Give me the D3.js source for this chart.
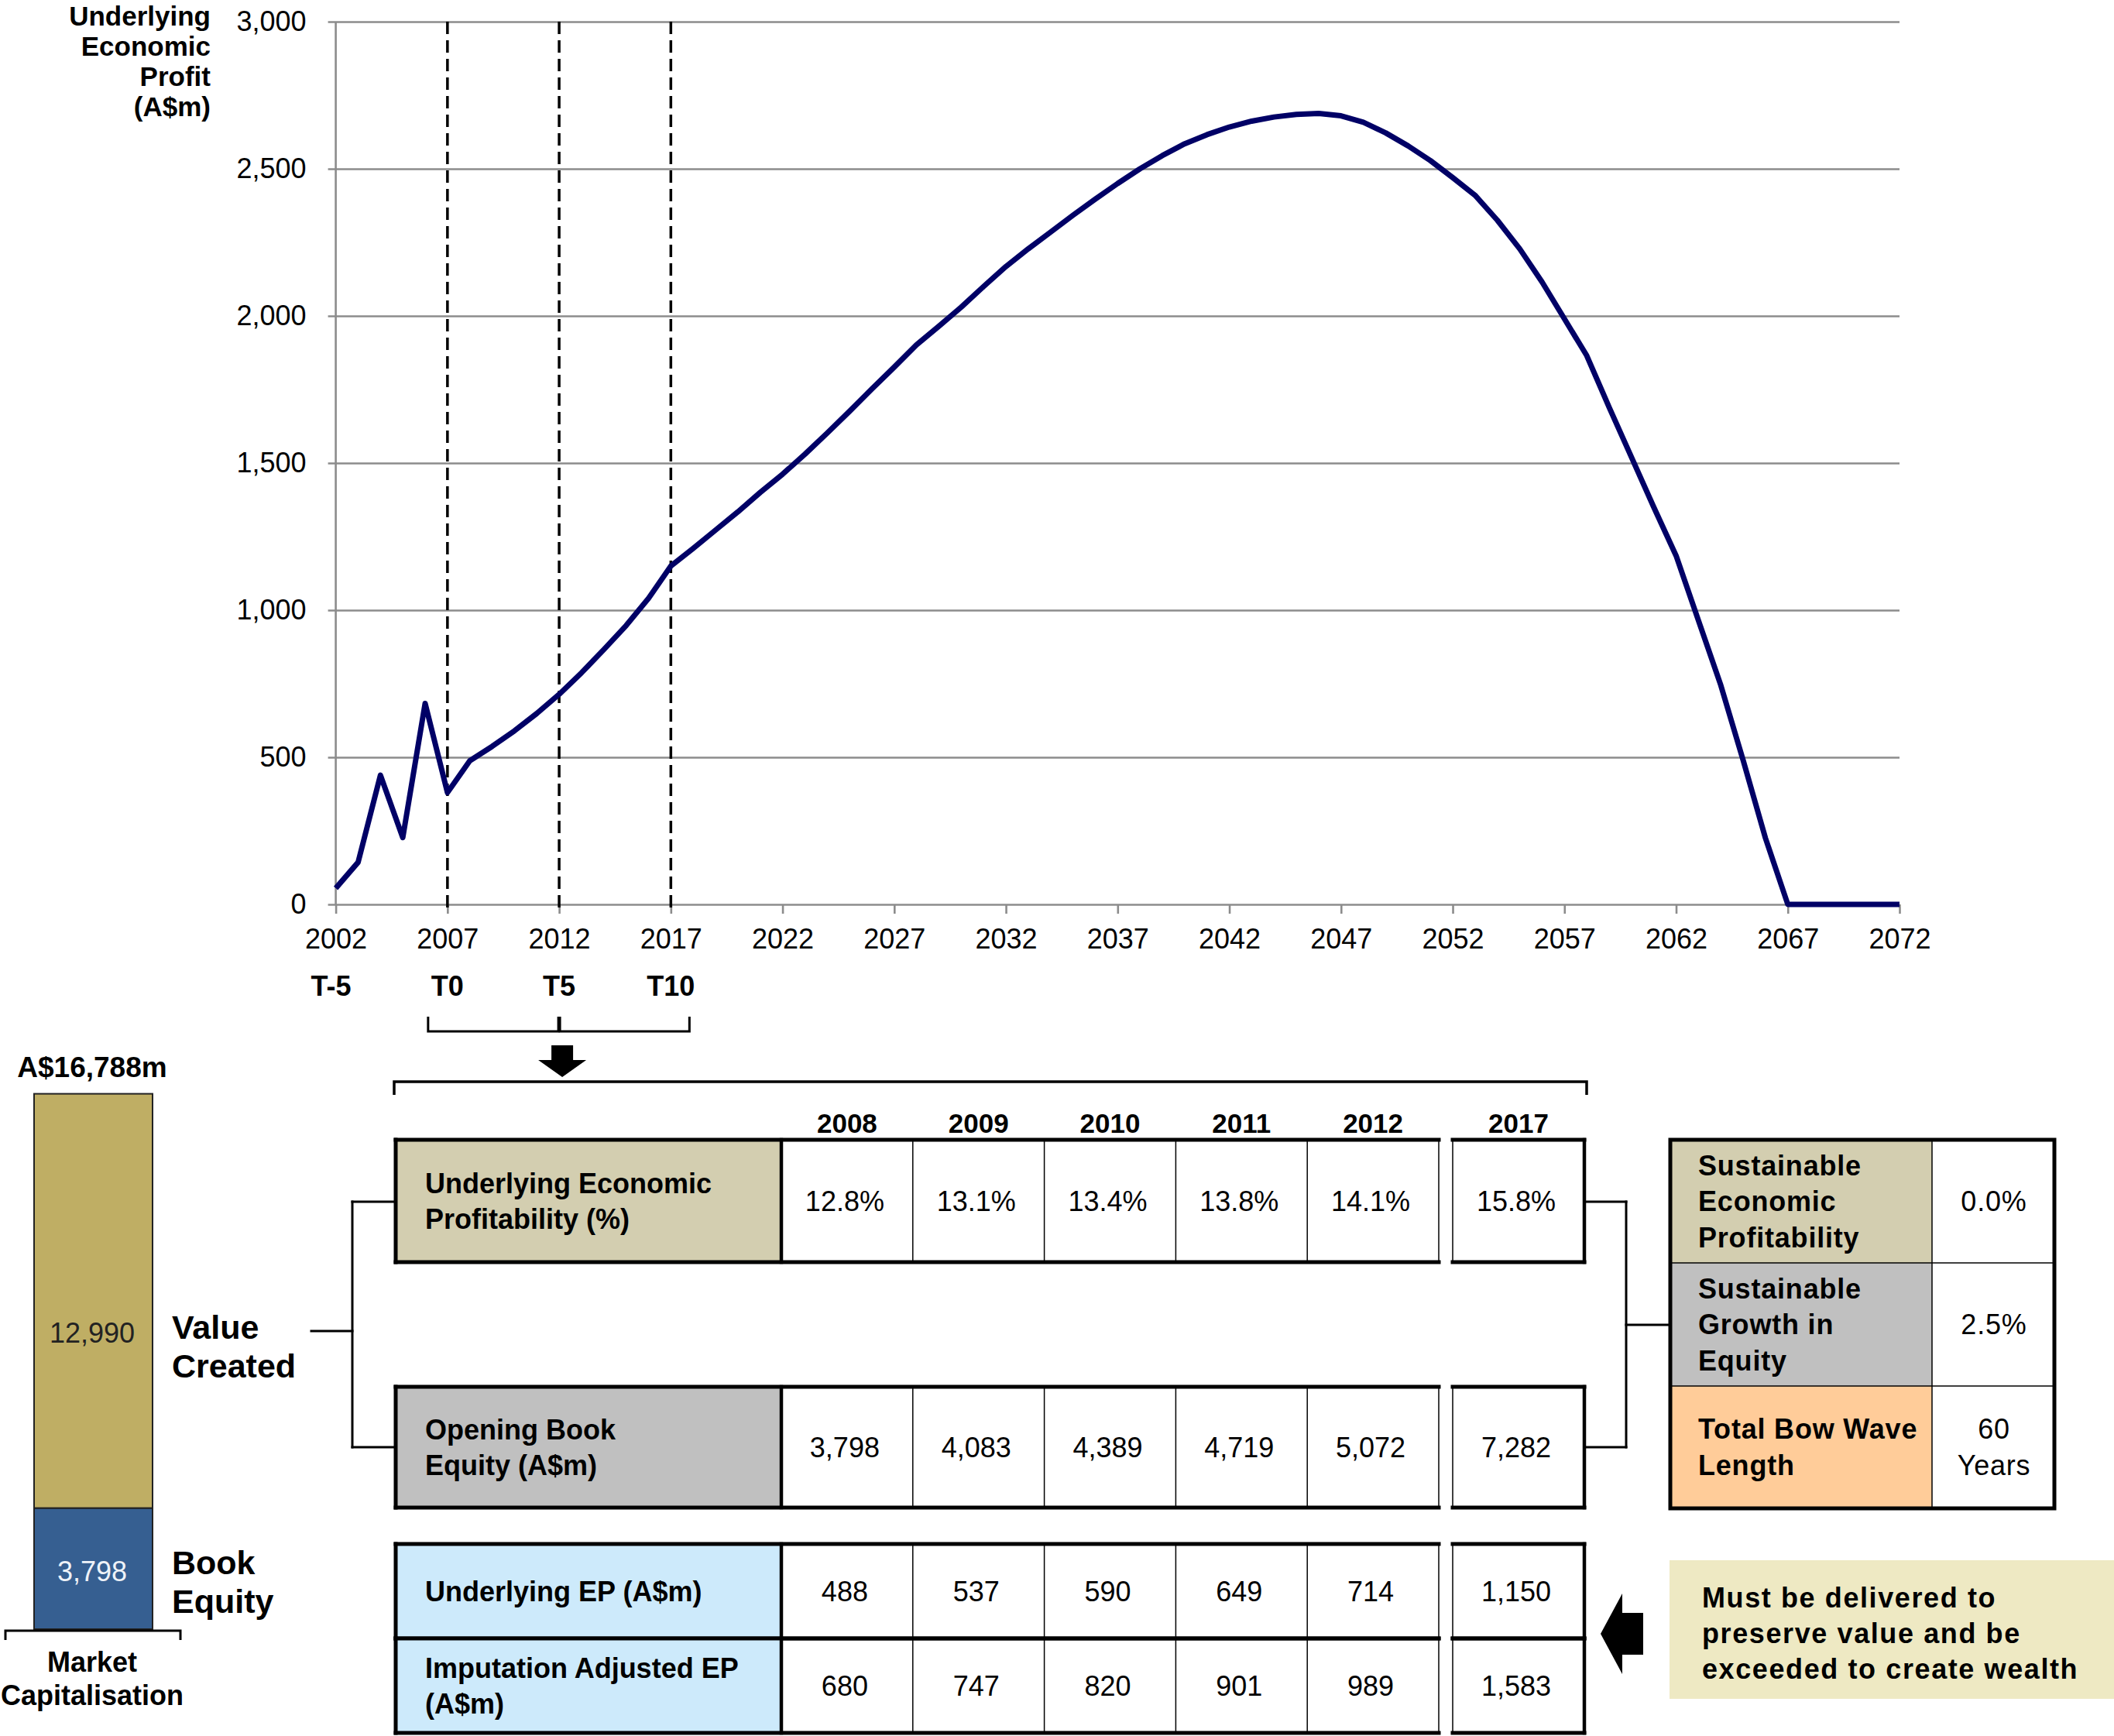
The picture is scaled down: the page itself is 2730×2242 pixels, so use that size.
<!DOCTYPE html>
<html>
<head>
<meta charset="utf-8">
<script src="https://cdn.jsdelivr.net/npm/d3@7"></script>
<style>
  html, body { margin: 0; padding: 0; background: #fff; }
  svg { display: block; font-family: "Liberation Sans", Arial, sans-serif; }
</style>
</head>
<body>
<svg id="chart" width="2730" height="2242"></svg>
<script>
// ---------------- DATA ----------------
const years = [2002,2003,2004,2005,2006,2007,2008,2009,2010,2011,2012,2013,2014,2015,2016,2017,2018,2019,2020,2021,2022,2023,2024,2025,2026,2027,2028,2029,2030,2031,2032,2033,2034,2035,2036,2037,2038,2039,2040,2041,2042,2043,2044,2045,2046,2047,2048,2049,2050,2051,2052,2053,2054,2055,2056,2057,2058,2059,2060,2061,2062,2063,2064,2065,2066,2067,2068,2069,2070,2071,2072];
const economicProfit = [55,143,439,227,683,380,488,537,590,649,714,787,866,948,1040,1150,1210,1272,1334,1400,1462,1530,1602,1676,1752,1826,1902,1965,2030,2100,2168,2228,2285,2342,2397,2450,2500,2545,2585,2616,2642,2662,2676,2685,2688,2680,2658,2622,2578,2528,2470,2410,2325,2228,2115,1990,1865,1690,1520,1350,1185,965,745,490,225,0,0,0,0,0,0];
const yTicks = [0,500,1000,1500,2000,2500,3000];
const xTicks = [2002,2007,2012,2017,2022,2027,2032,2037,2042,2047,2052,2057,2062,2067,2072];
const markerYears = [2007,2012,2017];
const tLabels = ["T-5","T0","T5","T10"];
const tYears = [2002,2007,2012,2017];
const yTitle = ["Underlying","Economic","Profit","(A$m)"];

const marketCapParts = [{name:"Book Equity", value:3798}, {name:"Value Created", value:12990}];
const marketCapTotal = "A$16,788m";

const tableYears = ["2008","2009","2010","2011","2012","2017"];
const rowLabels = [["Underlying Economic","Profitability (%)"],["Opening Book","Equity (A$m)"],["Underlying EP (A$m)"],["Imputation Adjusted EP","(A$m)"]];
const profitability = ["12.8%","13.1%","13.4%","13.8%","14.1%","15.8%"];
const openingBookEquity = ["3,798","4,083","4,389","4,719","5,072","7,282"];
const underlyingEP = ["488","537","590","649","714","1,150"];
const imputationEP = ["680","747","820","901","989","1,583"];

const sustainLabels = [["Sustainable","Economic","Profitability"],["Sustainable","Growth in","Equity"],["Total Bow Wave","Length"]];
const sustainValues = [["0.0%"],["2.5%"],["60","Years"]];
const noteLines = ["Must be delivered to","preserve value and be","exceeded to create wealth"];

// ---------------- DRAW ----------------
const svg = d3.select("#chart");
const FONT = "'Liberation Sans', Arial, sans-serif";
const grid = "#8c8c8c";

const x = d3.scaleLinear().domain([2002,2072]).range([433.6,2453]);
const y = d3.scaleLinear().domain([0,3000]).range([1168,28]);

// Y axis with gridlines
const yAxis = svg.append("g").attr("transform",`translate(${x(2002)},0)`)
  .call(d3.axisLeft(y).tickValues(yTicks).tickFormat(d3.format(",")).tickSize(-(x(2072)-x(2002))).tickSizeOuter(0).tickPadding(38));
yAxis.select(".domain").remove();
yAxis.selectAll(".tick line").attr("x1",-10).attr("stroke",grid).attr("stroke-width",2.6);
yAxis.selectAll(".tick text").attr("font-size",36).attr("font-family",FONT).attr("fill","#000");

// X axis ticks
const xAxis = svg.append("g").attr("transform",`translate(0,${y(0)})`)
  .call(d3.axisBottom(x).tickValues(xTicks).tickFormat(d3.format("d")).tickSize(12).tickSizeOuter(0).tickPadding(19));
xAxis.select(".domain").remove();
xAxis.selectAll(".tick line").attr("stroke",grid).attr("stroke-width",2.6);
xAxis.selectAll(".tick text").attr("font-size",36).attr("font-family",FONT).attr("fill","#000");

// y axis line
svg.append("line").attr("x1",x(2002)).attr("x2",x(2002)).attr("y1",y(3000)).attr("y2",y(0))
  .attr("stroke",grid).attr("stroke-width",2.6);

// dashed markers
svg.selectAll(".marker").data(markerYears).enter().append("line")
  .attr("x1",d=>x(d)).attr("x2",d=>x(d)).attr("y1",y(3000)).attr("y2",y(0)+6)
  .attr("stroke","#000").attr("stroke-width",3.5).attr("stroke-dasharray","16,8");

// T labels
svg.selectAll(".tlab").data(tLabels).enter().append("text")
  .attr("x",(d,i)=>x(tYears[i]) - (i===0?6:0)).attr("y",1273).attr("dy","0.35em")
  .attr("text-anchor","middle").attr("font-size",36).attr("font-weight","bold").attr("font-family",FONT)
  .text(d=>d);

// Y title
svg.selectAll(".ytitle").data(yTitle).enter().append("text")
  .attr("x",272).attr("y",(d,i)=>21+i*39).attr("dy","0.35em")
  .attr("text-anchor","end").attr("font-size",35).attr("font-weight","bold").attr("font-family",FONT)
  .text(d=>d);

// Line
const pts = years.map((yr,i)=>({yr, v:economicProfit[i]}));
svg.append("path").datum(pts)
  .attr("d", d3.line().x(d=>x(d.yr)).y(d=>y(d.v)))
  .attr("fill","none").attr("stroke","#000066").attr("stroke-width",7).attr("stroke-linejoin","round");

// ---------------- Brackets / arrows ----------------
const blk = "#000";
function seg(x1,y1,x2,y2,w){ svg.append("line").attr("x1",x1).attr("y1",y1).attr("x2",x2).attr("y2",y2).attr("stroke",blk).attr("stroke-width",w||3).attr("stroke-linecap","square"); }
function poly(points){ svg.append("path").attr("d", d3.line()(points)+"Z").attr("fill","#000"); }

// small brackets T0-T5 and T5-T10
svg.append("path").attr("d",`M${x(2007)-25},1313 V1332 H${x(2012)-1} V1313`).attr("fill","none").attr("stroke",blk).attr("stroke-width",3);
svg.append("path").attr("d",`M${x(2012)+1},1313 V1332 H${x(2017)+24} V1313`).attr("fill","none").attr("stroke",blk).attr("stroke-width",3);
// down arrow
const ax = x(2012)+4;
poly([[ax-14,1350],[ax+14,1350],[ax+14,1369],[ax+31,1369],[ax,1391],[ax-31,1369],[ax-14,1369]]);
// big bracket over table
svg.append("path").attr("d","M509,1414 V1397 H2049 V1414").attr("fill","none").attr("stroke",blk).attr("stroke-width",3.5);

// ---------------- Market cap bar ----------------
const barTop = 1412.6, barBottom = 2104;
const yb = d3.scaleLinear().domain([0, d3.sum(marketCapParts,d=>d.value)]).range([barBottom, barTop]);
let acc = 0;
const barColors = ["#365f91","#bfae64"];
const stacked = marketCapParts.map(d=>{ const o={...d, y0:acc, y1:acc+d.value}; acc+=d.value; return o; });
svg.selectAll(".bar").data(stacked).enter().append("rect")
  .attr("x",44).attr("width",153).attr("y",d=>yb(d.y1)).attr("height",d=>yb(d.y0)-yb(d.y1))
  .attr("fill",(d,i)=>barColors[i]).attr("stroke","#222").attr("stroke-width",2);
svg.selectAll(".barlab").data(stacked).enter().append("text")
  .attr("x",119).attr("y",d=>d.name==="Book Equity" ? (yb(d.y0)+yb(d.y1))/2 + 4 : yb(d.y0) - 226).attr("dy","0.35em")
  .attr("text-anchor","middle").attr("font-size",36).attr("font-family",FONT)
  .attr("fill",(d,i)=>i===0?"#eef2f8":"#222")
  .text(d=>d3.format(",")(d.value));
svg.append("text").attr("x",119).attr("y",1378).attr("dy","0.35em").attr("text-anchor","middle")
  .attr("font-size",37).attr("font-weight","bold").attr("font-family",FONT).text(marketCapTotal);
// side labels
const sideLabs = [{lines:["Value","Created"], y:1714},{lines:["Book","Equity"], y:2018}];
sideLabs.forEach(s=>{
  s.lines.forEach((l,i)=>svg.append("text").attr("x",222).attr("y",s.y+i*50).attr("dy","0.35em")
    .attr("font-size",43).attr("font-weight","bold").attr("font-family",FONT).text(l));
});
// market cap bracket
svg.append("path").attr("d","M7,2118 V2106 H233 V2118").attr("fill","none").attr("stroke",blk).attr("stroke-width",3);
["Market","Capitalisation"].forEach((l,i)=>svg.append("text").attr("x",119).attr("y",2146+i*43).attr("dy","0.35em")
  .attr("text-anchor","middle").attr("font-size",36).attr("font-weight","bold").attr("font-family",FONT).text(l));

// connectors left
seg(402,1719,455,1719); seg(455,1552,455,1869); seg(455,1552,511,1552); seg(455,1869,511,1869);
// connectors right
seg(2046,1552,2100,1552); seg(2046,1869,2100,1869); seg(2100,1552,2100,1869); seg(2100,1711,2157,1711);

// ---------------- Main table ----------------
const labL = 511, labR = 1009, mainR = 1858;
const colX = d3.scaleBand().domain(tableYears.slice(0,5)).range([labR, mainR]);
const c17L = 1876, c17R = 2046;
const colCenter = (i)=> i<5 ? colX(tableYears[i]) + colX.bandwidth()/2 : (c17L+c17R)/2;

// headers
svg.selectAll(".hdr").data(tableYears).enter().append("text")
  .attr("x",(d,i)=>colCenter(i)).attr("y",1451).attr("dy","0.35em").attr("text-anchor","middle")
  .attr("font-size",35).attr("font-weight","bold").attr("font-family",FONT).text(d=>d);

const rows = [
  {top:1472, bot:1630, fill:"#d3ceb0", label:rowLabels[0], vals:profitability},
  {top:1791, bot:1947, fill:"#c0c0c0", label:rowLabels[1], vals:openingBookEquity},
  {top:1994, bot:2116, fill:"#cdeafb", label:rowLabels[2], vals:underlyingEP},
  {top:2116, bot:2238, fill:"#cdeafb", label:rowLabels[3], vals:imputationEP}
];
rows.forEach(r=>{
  svg.append("rect").attr("x",labL).attr("y",r.top).attr("width",labR-labL).attr("height",r.bot-r.top).attr("fill",r.fill);
  const bounds = colX.domain().map(d=>colX(d)).concat([mainR]).slice(1);
  bounds.forEach(bx=>seg(bx,r.top,bx,r.bot,1.5));
  seg(c17L,r.top,c17L,r.bot,1.5);
  seg(labL,r.top,mainR,r.top,5); seg(labL,r.bot,mainR,r.bot,5);
  seg(labL,r.top,labL,r.bot,5); seg(labR,r.top,labR,r.bot,4.5);
  seg(c17L,r.top,c17R,r.top,5); seg(c17L,r.bot,c17R,r.bot,5);
  seg(c17R,r.top,c17R,r.bot,4.5);
  const mid = (r.top+r.bot)/2;
  const n = r.label.length;
  r.label.forEach((l,i)=>svg.append("text").attr("x",549).attr("y",mid + (i-(n-1)/2)*46).attr("dy","0.35em")
    .attr("font-size",36).attr("font-weight","bold").attr("font-family",FONT).text(l));
  svg.selectAll(null).data(r.vals).enter().append("text")
    .attr("x",(d,i)=>colCenter(i)-3).attr("y",mid).attr("dy","0.35em").attr("text-anchor","middle")
    .attr("font-size",36).attr("font-family",FONT).text(d=>d);
});

// ---------------- Right table ----------------
const rL = 2157, rM = 2495, rR = 2653;
const rRows = [[1472,1631,"#d3ceb0"],[1631,1790,"#c0c0c0"],[1790,1948,"#ffcc99"]];
rRows.forEach((rr,k)=>{
  svg.append("rect").attr("x",rL).attr("y",rr[0]).attr("width",rM-rL).attr("height",rr[1]-rr[0]).attr("fill",rr[2]);
  const mid=(rr[0]+rr[1])/2;
  const lab=sustainLabels[k], n=lab.length;
  lab.forEach((l,i)=>svg.append("text").attr("x",2193).attr("y",mid+(i-(n-1)/2)*46.5).attr("dy","0.35em")
    .attr("font-size",36).attr("font-weight","bold").attr("font-family",FONT).attr("letter-spacing",0.8).text(l));
  const v=sustainValues[k], m=v.length;
  v.forEach((l,i)=>svg.append("text").attr("x",2575).attr("y",mid+(i-(m-1)/2)*46.5).attr("dy","0.35em")
    .attr("text-anchor","middle").attr("font-size",36).attr("font-family",FONT).attr("letter-spacing",0.8).text(l));
  if(k>0) seg(rL,rr[0],rR,rr[0],1.5);
});
seg(rM,1472,rM,1948,1.5);
svg.append("rect").attr("x",rL).attr("y",1472).attr("width",rR-rL).attr("height",1948-1472)
  .attr("fill","none").attr("stroke","#000").attr("stroke-width",5);

// ---------------- Note box + arrow ----------------
svg.append("rect").attr("x",2156).attr("y",2015).attr("width",2730-2156).attr("height",179).attr("fill","#eee9c3");
noteLines.forEach((l,i)=>svg.append("text").attr("x",2198).attr("y",2063+i*46).attr("dy","0.35em")
  .attr("font-size",36).attr("font-weight","bold").attr("font-family",FONT).attr("letter-spacing",1.6).text(l));
poly([[2067,2110],[2095,2058],[2095,2083],[2122,2083],[2122,2137],[2095,2137],[2095,2162]]);
</script>
</body>
</html>
